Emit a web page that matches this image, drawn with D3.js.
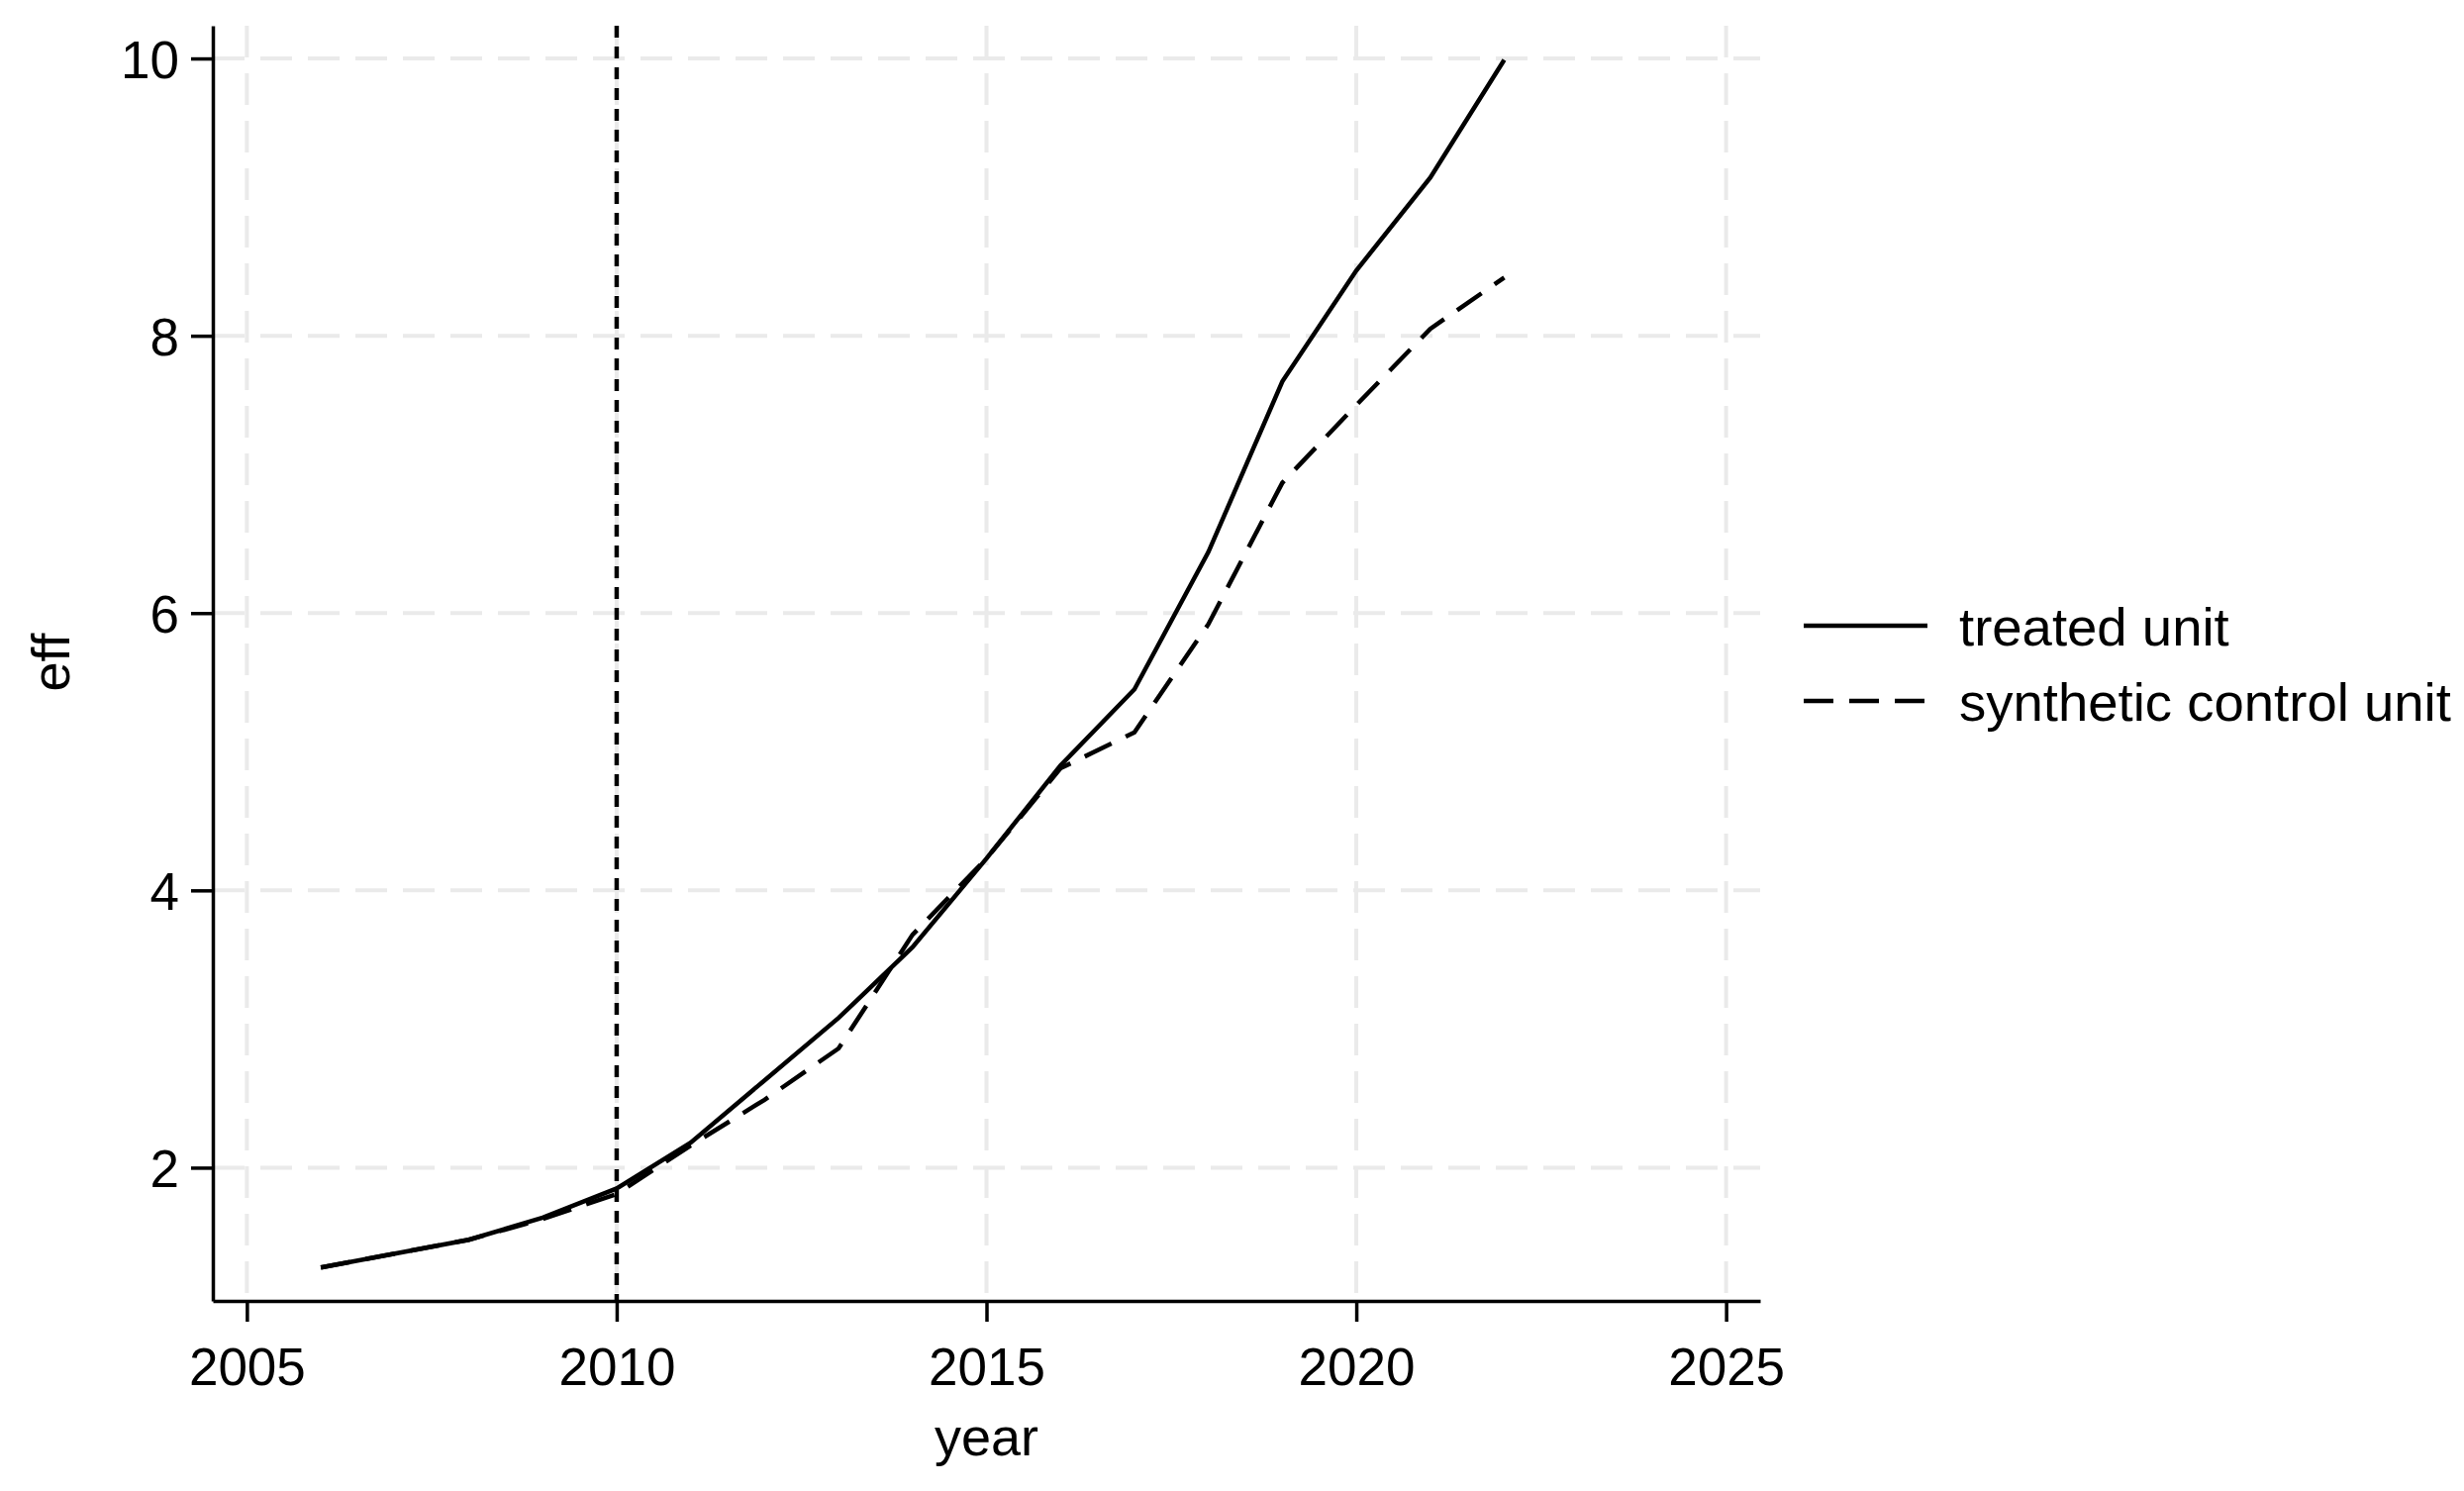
<!DOCTYPE html>
<html>
<head>
<meta charset="utf-8">
<script src="https://cdn.jsdelivr.net/npm/d3@7"></script>
<style>
  body { margin: 0; background: #fff; }
  text { font-family: "Liberation Sans", Arial, sans-serif; fill: #000; }
</style>
</head>
<body>
<div id="chart"></div>
<script>
/* DATA */
const years = [2006, 2007, 2008, 2009, 2010, 2011, 2012, 2013, 2014, 2015, 2016, 2017, 2018, 2019, 2020, 2021, 2022];
const treated = [1.28, 1.38, 1.48, 1.64, 1.85, 2.18, 2.63, 3.08, 3.59, 4.23, 4.90, 5.45, 6.44, 7.67, 8.47, 9.14, 9.99];
const synthetic = [1.28, 1.38, 1.48, 1.63, 1.81, 2.16, 2.49, 2.86, 3.68, 4.23, 4.88, 5.14, 5.92, 6.94, 7.50, 8.05, 8.42];
const xTicks = [2005, 2010, 2015, 2020, 2025];
const yTicks = [2, 4, 6, 8, 10];
const treatYear = 2010;
const seriesNames = ["treated unit", "synthetic control unit"];

/* CONSTANTS */
const width = 2489,
  height = 1506,
  margin = { top: 26, bottom: 192, left: 215, right: 711 };

const svg = d3.select("#chart")
  .append("svg")
  .attr("width", width)
  .attr("height", height);

// scales
const xScale = d3.scaleLinear()
  .domain([2004.54, 2025.46])
  .range([margin.left, width - margin.right]);

const yScale = d3.scaleLinear()
  .domain([1.039, 10.236])
  .range([height - margin.bottom, margin.top]);

// grid lines (light dashed)
const grid = svg.append("g").attr("class", "grid")
  .attr("stroke", "#eaeaea")
  .attr("stroke-width", 4)
  .attr("stroke-dasharray", "32,16");

grid.selectAll("line.h")
  .data(yTicks)
  .join("line")
  .attr("class", "h")
  .attr("x1", margin.left)
  .attr("x2", width - margin.right)
  .attr("y1", d => yScale(d))
  .attr("y2", d => yScale(d));

grid.selectAll("line.v")
  .data(xTicks)
  .join("line")
  .attr("class", "v")
  .attr("x1", d => xScale(d))
  .attr("x2", d => xScale(d))
  .attr("y1", margin.top)
  .attr("y2", height - margin.bottom);

// treatment year line
svg.append("line")
  .attr("x1", xScale(treatYear))
  .attr("x2", xScale(treatYear))
  .attr("y1", margin.top)
  .attr("y2", height - margin.bottom)
  .attr("stroke", "#000")
  .attr("stroke-width", 4.5)
  .attr("stroke-dasharray", "12,9");

// lines
const line = d3.line()
  .x((d, i) => xScale(years[i]))
  .y(d => yScale(d));

svg.append("path")
  .datum(treated)
  .attr("d", line)
  .attr("fill", "none")
  .attr("stroke", "#000")
  .attr("stroke-width", 4.5);

svg.append("path")
  .datum(synthetic)
  .attr("d", line)
  .attr("fill", "none")
  .attr("stroke", "#000")
  .attr("stroke-width", 4.5)
  .attr("stroke-dasharray", "30,16");

// axes
const xAxis = d3.axisBottom(xScale).tickValues(xTicks).tickFormat(d3.format("d"))
  .tickSizeInner(21).tickSizeOuter(0).tickPadding(26);
const yAxis = d3.axisLeft(yScale).tickValues(yTicks)
  .tickSizeInner(22).tickSizeOuter(0).tickPadding(12);

const gx = svg.append("g")
  .attr("class", "axis x-axis")
  .attr("transform", `translate(0,${height - margin.bottom})`)
  .call(xAxis);

const gy = svg.append("g")
  .attr("class", "axis y-axis")
  .attr("transform", `translate(${margin.left},0)`)
  .call(yAxis);

[gx, gy].forEach(g => {
  g.select(".domain").attr("stroke-width", 3.5).attr("stroke", "#000");
  g.selectAll(".tick line").attr("stroke-width", 3.5).attr("stroke", "#000");
  g.selectAll(".tick text")
    .attr("font-size", 53)
    .attr("font-family", "Liberation Sans, Arial, sans-serif")
    .attr("fill", "#000");
});
gy.selectAll(".tick text").attr("dy", "0.36em");

// axis titles
svg.append("text")
  .attr("x", (margin.left + width - margin.right) / 2)
  .attr("y", 1470)
  .attr("text-anchor", "middle")
  .attr("font-size", 54)
  .text("year");

svg.append("text")
  .attr("transform", `translate(70,669) rotate(-90)`)
  .attr("text-anchor", "middle")
  .attr("font-size", 54)
  .text("eff");

// legend
const legend = svg.append("g").attr("class", "legend");
const legendY = [632, 708];

legend.selectAll("line")
  .data(seriesNames)
  .join("line")
  .attr("x1", 1822)
  .attr("x2", 1947)
  .attr("y1", (d, i) => legendY[i])
  .attr("y2", (d, i) => legendY[i])
  .attr("stroke", "#000")
  .attr("stroke-width", 4.5)
  .attr("stroke-dasharray", (d, i) => i === 0 ? null : "30,16");

legend.selectAll("text")
  .data(seriesNames)
  .join("text")
  .attr("x", 1979)
  .attr("y", (d, i) => legendY[i] + 20)
  .attr("font-size", 54.5)
  .text(d => d);
</script>
</body>
</html>
